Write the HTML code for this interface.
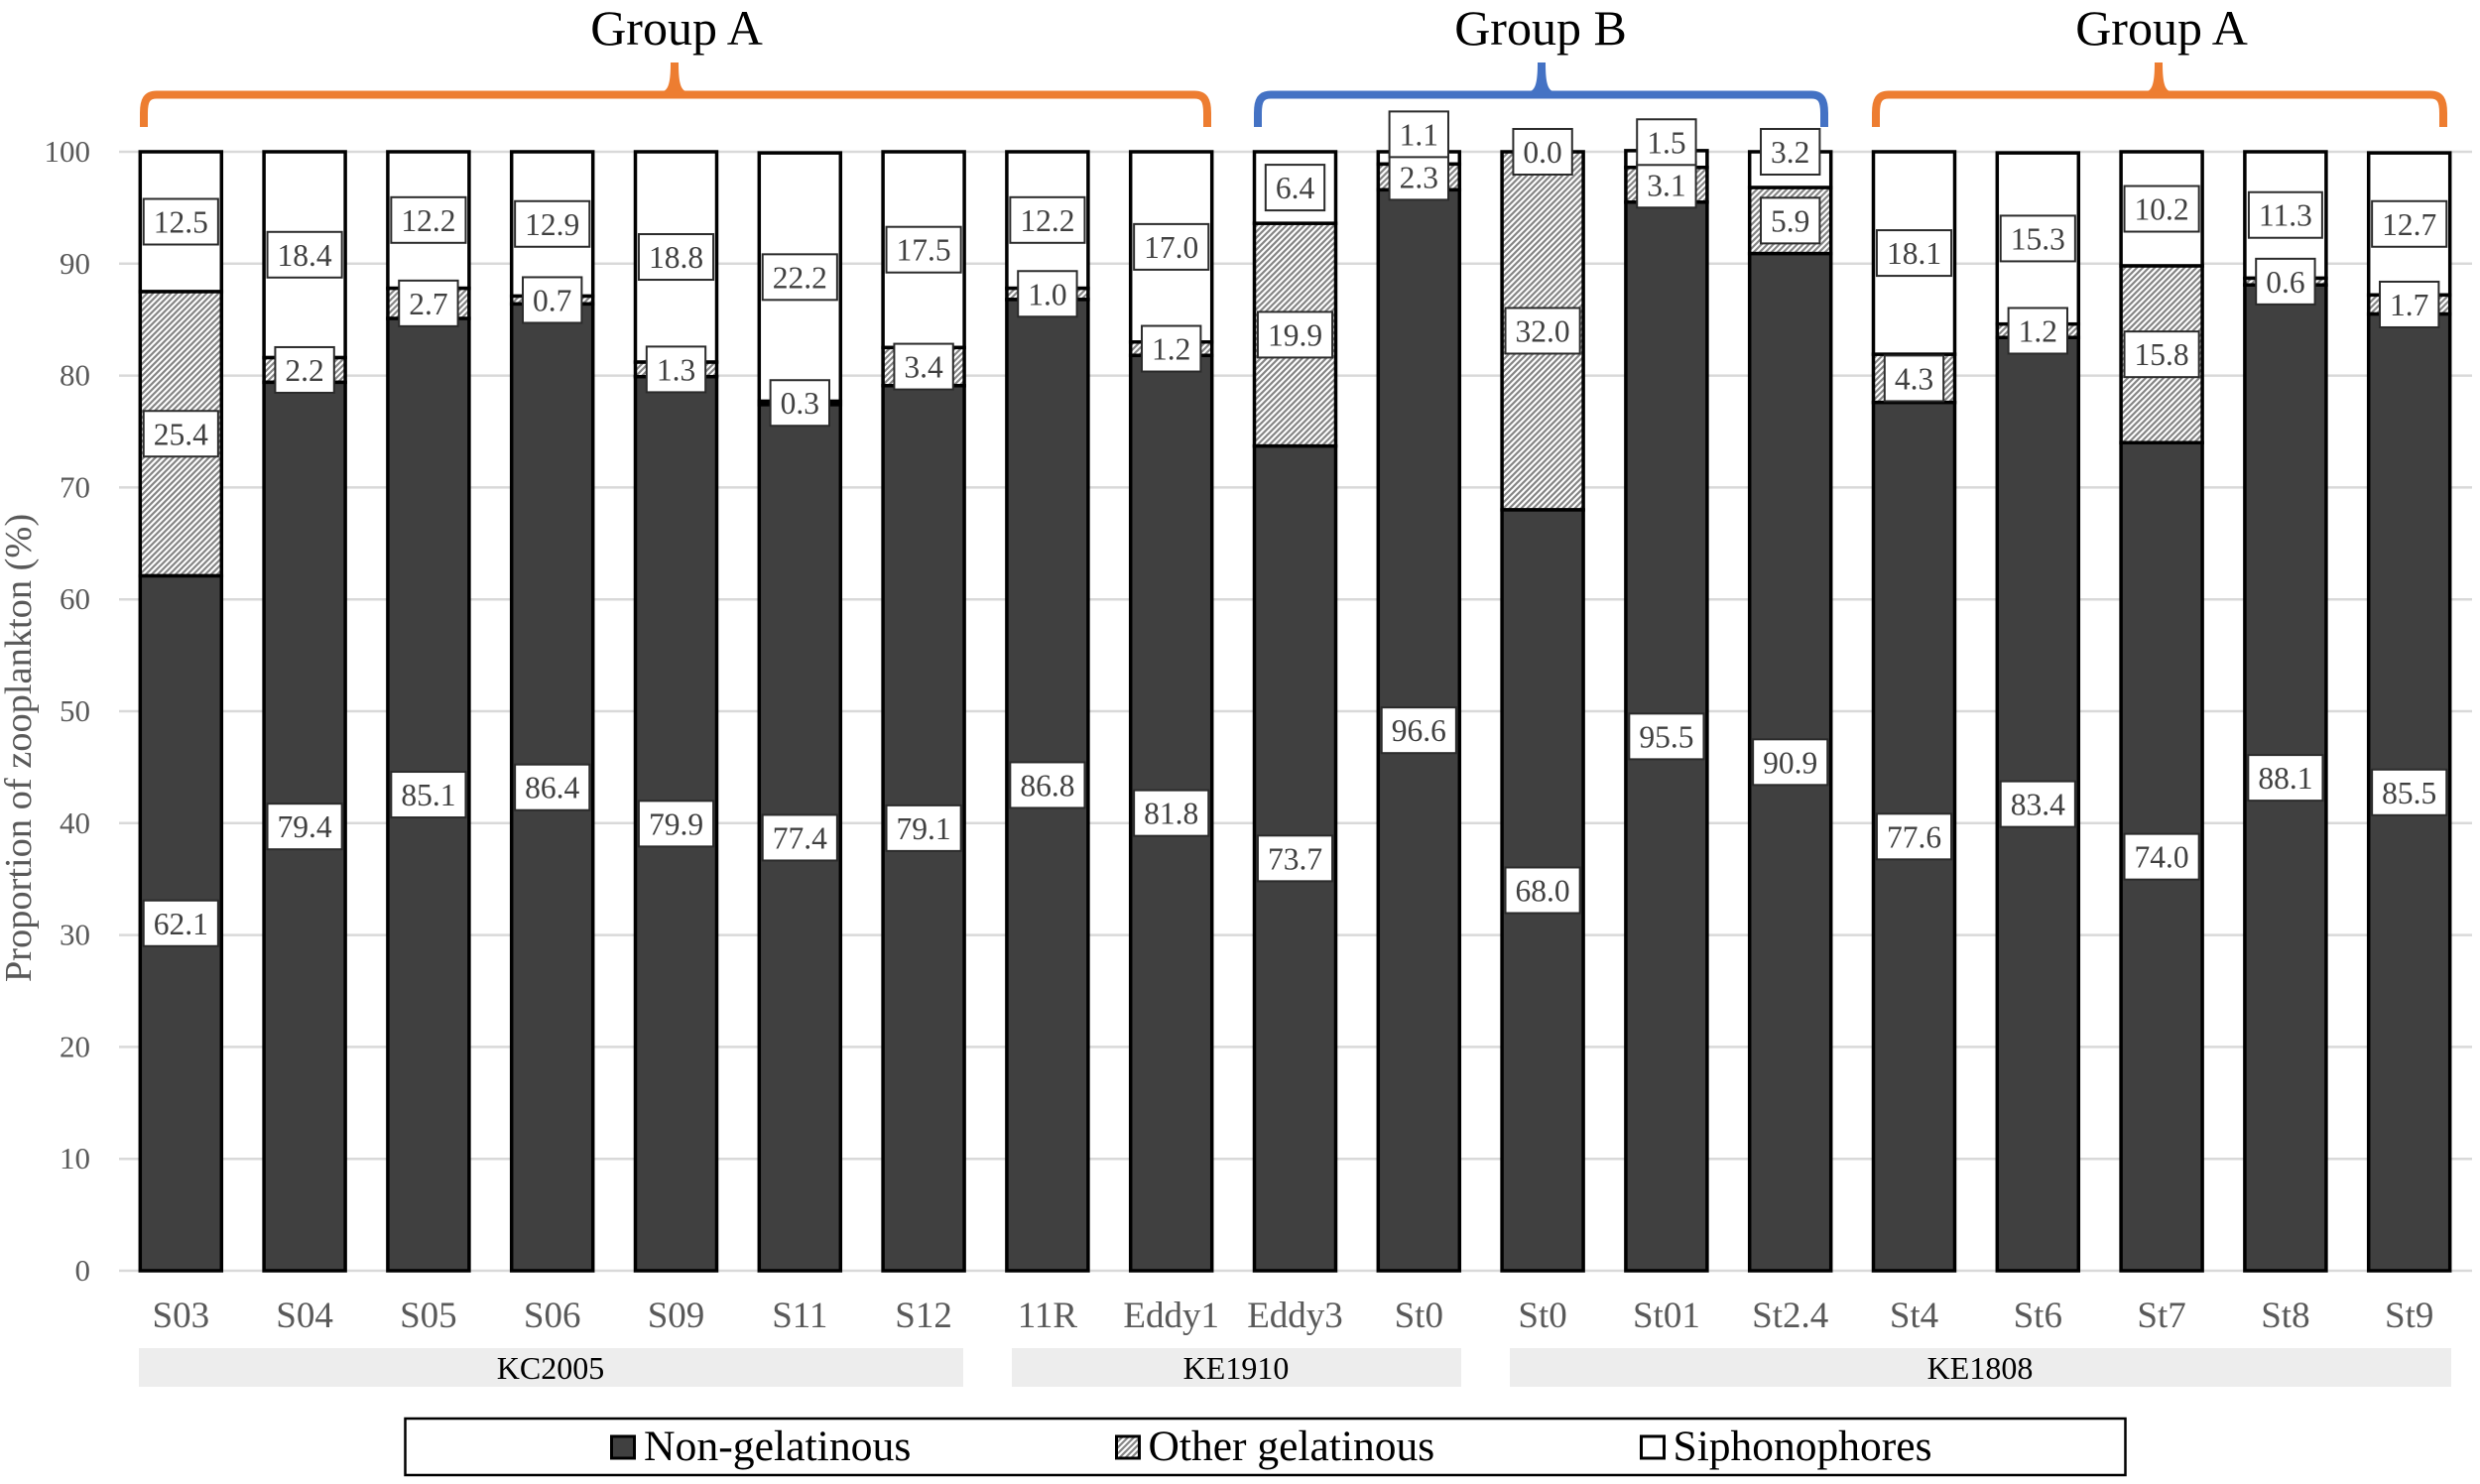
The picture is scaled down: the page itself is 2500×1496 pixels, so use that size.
<!DOCTYPE html>
<html lang="en">
<head>
<meta charset="utf-8">
<title>Proportion of zooplankton</title>
<style>
html,body{margin:0;padding:0;background:#fff;width:2500px;height:1496px;overflow:hidden}
svg{display:block;font-family:"Liberation Serif","Times New Roman",serif}
</style>
</head>
<body>
<svg id="chart" xmlns="http://www.w3.org/2000/svg" width="2500" height="1496" viewBox="0 0 2500 1496">
  <defs>
    <pattern id="hatch" patternUnits="userSpaceOnUse" width="6" height="6">
      <rect width="6" height="6" fill="#fff"/>
      <path d="M-1.5 1.5L1.5 -1.5M0 6L6 0M4.5 7.5L7.5 4.5" stroke="#858585" stroke-width="2.2"/>
    </pattern>
  </defs>

  <g id="grid"></g>
  <g id="yaxis"></g>
  <text transform="translate(31,754) rotate(-90)" text-anchor="middle" font-size="38.4" fill="#595959">Proportion of zooplankton (%)</text>

  <g id="bars"></g>
  <g id="labels"></g>
  <g id="xaxis"></g>

  <g>
    <rect x="140" y="1359" width="831" height="39" fill="#ededed"/>
    <text x="555" y="1390" font-size="32" text-anchor="middle" fill="#000">KC2005</text>
    <rect x="1020" y="1359" width="453" height="39" fill="#ededed"/>
    <text x="1246" y="1390" font-size="32" text-anchor="middle" fill="#000">KE1910</text>
    <rect x="1522" y="1359" width="949" height="39" fill="#ededed"/>
    <text x="1996" y="1390" font-size="32" text-anchor="middle" fill="#000">KE1808</text>
  </g>

  <g>
    <g fill="#ed7d31">
      <path fill="none" stroke="#ed7d31" stroke-width="8" d="M145 128V114C145 101 148 95.5 158 95.5H1204C1214 95.5 1217 101 1217 114V128"/>
      <path d="M676 63H684C684 78 685 91 692 92V96H668V92C675 91 676 78 676 63Z"/>
    </g>
    <text x="682" y="45" font-size="50" text-anchor="middle" fill="#000">Group A</text>
    <g fill="#4472c4">
      <path fill="none" stroke="#4472c4" stroke-width="8" d="M1268 128V114C1268 101 1271 95.5 1281 95.5H1826C1836 95.5 1839 101 1839 114V128"/>
      <path d="M1550 63H1558C1558 78 1559 91 1566 92V96H1542V92C1549 91 1550 78 1550 63Z"/>
    </g>
    <text x="1553" y="45" font-size="50" text-anchor="middle" fill="#000">Group B</text>
    <g fill="#ed7d31">
      <path fill="none" stroke="#ed7d31" stroke-width="8" d="M1891 128V114C1891 101 1894 95.5 1904 95.5H2450C2460 95.5 2463 101 2463 114V128"/>
      <path d="M2172 63H2180C2180 78 2181 91 2188 92V96H2164V92C2171 91 2172 78 2172 63Z"/>
    </g>
    <text x="2179" y="45" font-size="50" text-anchor="middle" fill="#000">Group A</text>
  </g>

  <g>
    <rect x="408.5" y="1430" width="1734" height="57" fill="#fff" stroke="#000" stroke-width="2.5"/>
    <g>
      <rect x="616.5" y="1448" width="23" height="22" fill="#404040" stroke="#000" stroke-width="3"/>
      <text x="649" y="1472" font-size="43.7" fill="#000">Non-gelatinous</text>
    </g>
    <g>
      <rect x="1125.5" y="1448" width="23" height="22" fill="url(#hatch)" stroke="#000" stroke-width="3"/>
      <text x="1157.5" y="1472" font-size="43.5" fill="#000">Other gelatinous</text>
    </g>
    <g>
      <rect x="1654.5" y="1448" width="23" height="22" fill="#fff" stroke="#000" stroke-width="3"/>
      <text x="1686.5" y="1472" font-size="43.5" fill="#000">Siphonophores</text>
    </g>
  </g>
</svg>

<script>
const categories = ["S03","S04","S05","S06","S09","S11","S12","11R","Eddy1","Eddy3","St0","St0","St01","St2.4","St4","St6","St7","St8","St9"];
const nonGelatinous = [62.1,79.4,85.1,86.4,79.9,77.4,79.1,86.8,81.8,73.7,96.6,68.0,95.5,90.9,77.6,83.4,74.0,88.1,85.5];
const otherGelatinous = [25.4,2.2,2.7,0.7,1.3,0.3,3.4,1.0,1.2,19.9,2.3,32.0,3.1,5.9,4.3,1.2,15.8,0.6,1.7];
const siphonophores = [12.5,18.4,12.2,12.9,18.8,22.2,17.5,12.2,17.0,6.4,1.1,0.0,1.5,3.2,18.1,15.3,10.2,11.3,12.7];
const yTicks = [0,10,20,30,40,50,60,70,80,90,100];

const NS = "http://www.w3.org/2000/svg";
const plotBottom = 1281, unitHeight = 11.28, firstCenter = 182.3, step = 124.8, barWidth = 82;
const labelHeight = 46, labelPad = 10, stackedLabelGap = 43;
function xCenter(i) { return firstCenter + step * i; }
function yScale(v) { return plotBottom - unitHeight * v; }
function make(tag, parent, attrs) {
  const el = document.createElementNS(NS, tag);
  for (const k in attrs) el.setAttribute(k, attrs[k]);
  parent.appendChild(el);
  return el;
}

const gridG = document.getElementById("grid");
const yAxisG = document.getElementById("yaxis");
yTicks.forEach(function (t) {
  const line = make("line", gridG, {x1: 120, x2: 2492, y1: yScale(t), y2: yScale(t), stroke: "#d9d9d9", "stroke-width": 2.5});
  
  
  const label = make("text", yAxisG, {x: 91, y: yScale(t) + 10, "text-anchor": "end", "font-size": 31, fill: "#595959"});
  label.textContent = String(t);
  
  
});

const barsG = document.getElementById("bars");
const labelsG = document.getElementById("labels");
const xAxisG = document.getElementById("xaxis");

function drawSegment(i, base, value, fill) {
  const top = yScale(base + value);
  const seg = make("rect", barsG, {
    x: xCenter(i) - barWidth / 2, y: top, width: barWidth,
    height: Math.max(0, yScale(base) - top),
    fill: fill, stroke: "#000", "stroke-width": 3.5
  });
  return seg;
}

function drawLabel(i, cy, value) {
  const box = make("rect", labelsG, {y: cy - labelHeight / 2, height: labelHeight, fill: "#fff", stroke: "#2b2b2b", "stroke-width": 2});
  
  
  const txt = make("text", labelsG, {x: xCenter(i), y: cy + 11, "text-anchor": "middle", "font-size": 31.5, fill: "#404040"});
  txt.textContent = value.toFixed(1);
  
  
  const w = txt.getComputedTextLength() + labelPad * 2;
  box.setAttribute("x", xCenter(i) - w / 2);
  box.setAttribute("width", w);
}

categories.forEach(function (cat, i) {
  const a = nonGelatinous[i], b = otherGelatinous[i], c = siphonophores[i];

  const s3 = drawSegment(i, a + b, c, "#fff");
  
  
  const s2 = drawSegment(i, a, b, "url(#hatch)");
  
  
  const s1 = drawSegment(i, 0, a, "#404040");
  
  

  const cyA = yScale(a / 2);
  const cyB = yScale(a + b / 2);
  let cyC = yScale(a + b + c / 2);
  /* a label too tall for its top segment sits on the top of the bar, above the label below it */
  if (c * unitHeight < labelHeight) {
    cyC = yScale(a + b + c);
    if (cyC > cyB - stackedLabelGap) cyC = cyB - stackedLabelGap;
  }

  drawLabel(i, cyA, a);
  drawLabel(i, cyB, b);
  drawLabel(i, cyC, c);

  const tick = make("text", xAxisG, {x: xCenter(i), y: 1338, "text-anchor": "middle", "font-size": 37, fill: "#595959"});
  tick.textContent = cat;
  
  
});
</script>
</body>
</html>
